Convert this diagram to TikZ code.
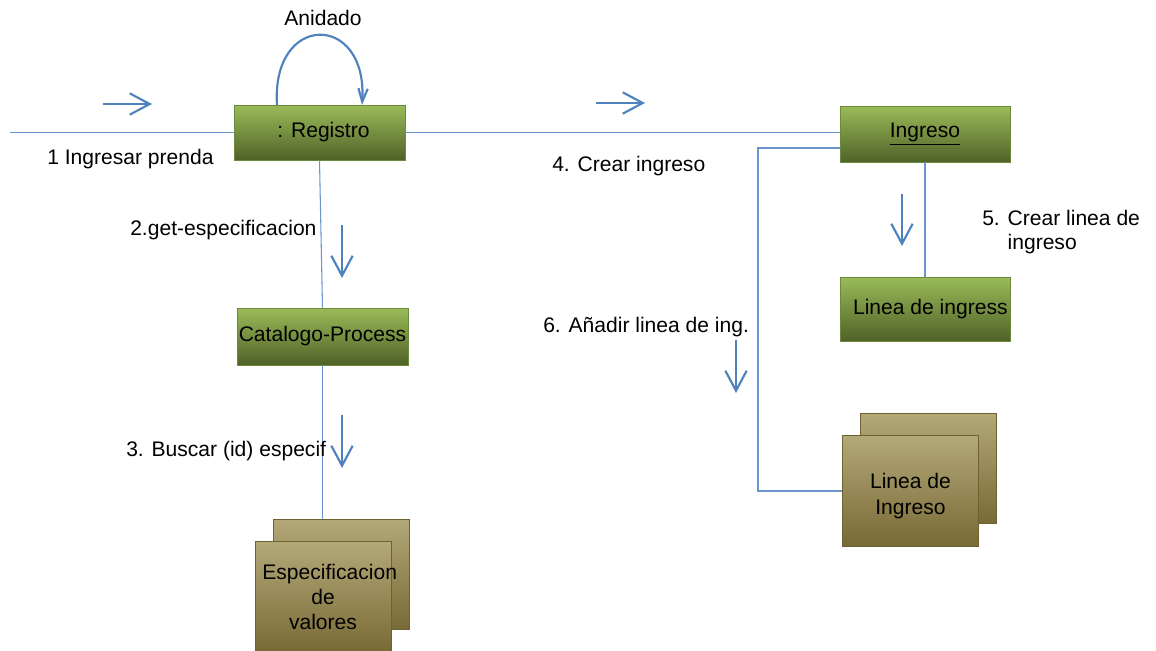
\documentclass[tikz,border=0pt]{standalone}
\usepackage{fontspec}
\setmainfont{Liberation Sans}
\usetikzlibrary{arrows.meta}
\definecolor{lnblue}{HTML}{6A95CF}
\definecolor{arblue}{HTML}{4F81BD}
\definecolor{gtop}{HTML}{9BBB59}
\definecolor{gbot}{HTML}{4F6228}
\definecolor{gbord}{HTML}{6B8A3A}
\definecolor{otop}{HTML}{B3A878}
\definecolor{obot}{HTML}{786A36}
\definecolor{obord}{HTML}{6E6232}
\begin{document}
\begin{tikzpicture}[x=0.75pt,y=-0.75pt,
  txt/.style={font=\fontsize{15.8pt}{18.8pt}\selectfont},
  lbl/.style={txt, inner sep=0pt},
  gbox/.style={txt, draw=gbord, line width=0.6pt, top color=gtop, bottom color=gbot, inner sep=0pt, align=center},
  obox/.style={txt, draw=obord, line width=0.6pt, top color=otop, bottom color=obot, inner sep=0pt, align=center, minimum width=102pt, minimum height=83pt},
  conn/.style={draw=lnblue, line width=0.8pt},
  msg/.style={draw=arblue, line width=1.6pt, -{Straight Barb[length=15pt,width=16pt,line width=1.6pt]}},
  loopar/.style={draw=arblue, line width=1.6pt, -{Straight Barb[length=10pt,width=7pt,line width=1.6pt]}}
]
\useasboundingbox (0,0) rectangle (1156,650);

% boxes
\node[gbox, minimum width=128.25pt, minimum height=41.25pt] (reg) at (319.5,132.5) {\hspace*{6pt}: Registro};
\node[gbox, minimum width=128.25pt, minimum height=42.75pt] (cat) at (322.5,336.5) {\makebox[0pt]{Catalogo-Process}};
\node[gbox, minimum width=127.5pt, minimum height=42pt] (ing) at (925,134) {\underline{Ingreso}};
\node[gbox, minimum width=127.5pt, minimum height=48pt] (lin) at (925,309) {\makebox[0pt]{\hspace*{8pt}Linea de ingress}};

\node[obox] (espB) at (341.5,574.5) {};
\node[obox] (espF) at (323,597) {\makebox[0pt]{\hspace*{10pt}Especificacion}\\de\\valores};
\node[obox] (linB) at (928.5,468.5) {};
\node[obox] (linF) at (910.5,491) {\rule{0pt}{19pt}Linea de\\[1pt]Ingreso};

% connectors
\coordinate (inL) at (10,132.5);
\draw[conn] (inL) -- (reg.west);
\draw[conn] (reg.east) -- (reg.east -| ing.west);
\draw[conn] (reg.south) -- (cat.north);
\draw[conn] (cat.south) -- (cat.south |- espB.north);
\draw[conn] (ing.south) -- (lin.north);
\coordinate (k6) at (758,148);
\draw[conn] (k6 -| ing.west) -- (k6) |- (linF.west);

% message arrows
\coordinate (a1s) at (103,104); \coordinate (a1e) at (152,104);
\draw[msg] (a1s) -- (a1e);
\coordinate (a4s) at (596,103); \coordinate (a4e) at (645,103);
\draw[msg] (a4s) -- (a4e);
\coordinate (a2s) at (342,225); \coordinate (a2e) at (342,278);
\draw[msg] (a2s) -- (a2e);
\coordinate (a3s) at (342,415); \coordinate (a3e) at (342,468);
\draw[msg] (a3s) -- (a3e);
\coordinate (a5s) at (902,194); \coordinate (a5e) at (902,246);
\draw[msg] (a5s) -- (a5e);
\coordinate (a6s) at (736,340); \coordinate (a6e) at (736,393);
\draw[msg] (a6s) -- (a6e);

% nested loop
\coordinate (lp1) at (277,105);
\coordinate (lp2) at (362,105);
\draw[loopar] (lp1) .. controls (271,12) and (368,12) .. (lp2);

% labels
\node[lbl] (tAn) at (323,18) {Anidado};
\node[lbl, anchor=west] (t1) at (47,159) {1 Ingresar prenda};
\node[lbl, anchor=west] (t2) at (130,230) {2.get-especificacion};
\node[lbl, anchor=west] (t3) at (126,451) {3. Buscar (id) especif};
\node[lbl, anchor=west] (t4) at (552,166) {4. Crear ingreso};
\node[lbl, anchor=north west, align=left, font=\fontsize{15.8pt}{18pt}\selectfont] (t5) at (982,210) {5. Crear linea de\\\hphantom{5. }ingreso};
\node[lbl, anchor=west] (t6) at (543,327) {6. Añadir linea de ing.};
\end{tikzpicture}
\end{document}
